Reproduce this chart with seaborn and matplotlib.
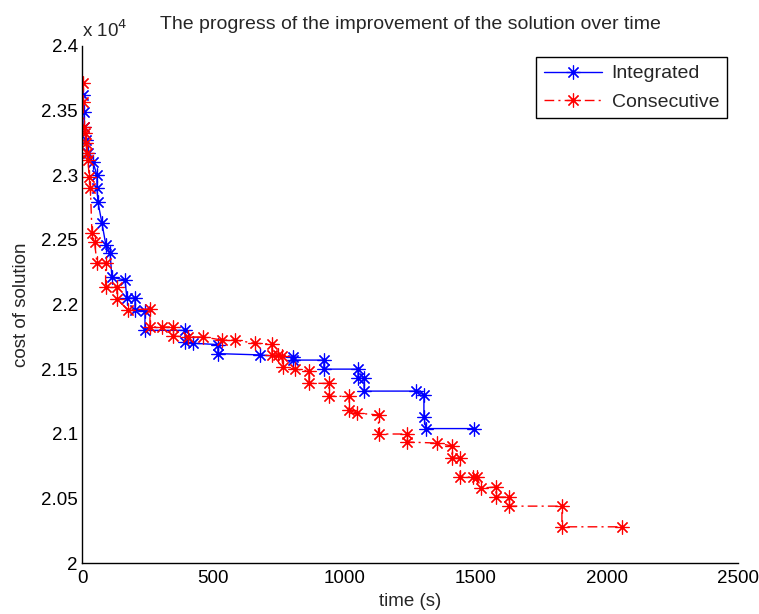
import matplotlib
matplotlib.use("Agg")
import matplotlib.pyplot as plt
import matplotlib.ticker as mticker
from matplotlib.lines import Line2D
import seaborn as sns
import pandas as pd

# Integrated run: time (s) and cost of solution
integrated_t = [4, 8, 8, 15, 23, 42, 57, 57, 61, 76, 91, 107, 114, 164, 171, 202, 202,
                240, 240, 393, 393, 423, 518, 518, 678, 804, 804, 922, 922, 1052, 1052,
                1075, 1075, 1273, 1303, 1303, 1311, 1494]
integrated_c = [23620, 23490, 23370, 23270, 23170, 23100, 23000, 22900, 22790, 22630,
                22460, 22400, 22210, 22190, 22050, 22050, 21960, 21950, 21800, 21800,
                21710, 21700, 21690, 21620, 21610, 21590, 21570, 21570, 21500, 21500,
                21430, 21430, 21330, 21330, 21300, 21130, 21040, 21040]

# Consecutive run
consecutive_t = [4, 4, 8, 11, 15, 20, 23, 27, 32, 38, 48, 57, 90, 90, 133, 133, 175, 259,
                 259, 305, 347, 347, 404, 461, 534, 583, 659, 724, 724, 747, 762, 766,
                 812, 865, 865, 941, 941, 1018, 1018, 1048, 1130, 1130, 1239, 1239, 1353,
                 1410, 1410, 1441, 1441, 1490, 1505, 1520, 1578, 1578, 1627, 1627, 1829,
                 1829, 2058]
consecutive_c = [23710, 23570, 23370, 23330, 23250, 23170, 23120, 22990, 22900, 22550,
                 22480, 22320, 22320, 22135, 22135, 22040, 21960, 21965, 21826, 21826,
                 21826, 21756, 21749, 21749, 21725, 21725, 21700, 21694, 21610, 21610,
                 21600, 21516, 21500, 21486, 21390, 21390, 21290, 21290, 21180, 21160,
                 21145, 20998, 20998, 20936, 20928, 20905, 20812, 20812, 20665, 20665,
                 20665, 20580, 20588, 20510, 20510, 20440, 20440, 20280, 20280]

series_names = ["Integrated", "Consecutive"]
x_ticks = [0, 500, 1000, 1500, 2000, 2500]
y_ticks = [20000, 20500, 21000, 21500, 22000, 22500, 23000, 23500, 24000]

df_int = pd.DataFrame({"time": integrated_t, "cost": integrated_c})
df_con = pd.DataFrame({"time": consecutive_t, "cost": consecutive_c})

sns.set_style("white")
plt.rcParams["font.family"] = ["Liberation Sans", "DejaVu Sans"]
FS = 13.5

fig = plt.figure(figsize=(7.59, 6.14), dpi=100)
ax = fig.add_axes([82 / 759, 1 - 563 / 614, (738 - 82) / 759, (563 - 46) / 614])

star = (8, 2, 0)
blue = (0, 0, 1)
red = (1, 0, 0)
dashdot = (0, (7, 3, 1.5, 3))
MS = 10
MEW = 0.85

sns.lineplot(data=df_int, x="time", y="cost", sort=False, estimator=None, ax=ax,
             color=blue, linestyle="-", linewidth=1.0, marker=star, markersize=MS,
             markeredgewidth=MEW, markeredgecolor=blue, markerfacecolor=blue)
sns.lineplot(data=df_con, x="time", y="cost", sort=False, estimator=None, ax=ax,
             color=red, linestyle=dashdot, linewidth=1.0, marker=star, markersize=MS,
             markeredgewidth=MEW, markeredgecolor=red, markerfacecolor=red)

ax.set_xlim(0, 2500)
ax.set_ylim(20000, 24000)
ax.set_xticks(x_ticks)
ax.set_yticks(y_ticks)
ax.yaxis.set_major_formatter(mticker.FuncFormatter(lambda v, p: f"{v/1e4:g}"))
ax.tick_params(direction="in", length=5, width=1, labelsize=FS, colors="black")
ax.tick_params(axis="x", pad=5)
ax.tick_params(axis="y", pad=3)
for s in ["top", "right"]:
    ax.spines[s].set_visible(False)
for s in ["left", "bottom"]:
    ax.spines[s].set_color("black")
    ax.spines[s].set_linewidth(1.0)

ax.set_xlabel("time (s)", fontsize=FS, labelpad=4)
ax.set_ylabel("cost of solution", fontsize=FS, labelpad=8)
ax.set_title("The progress of the improvement of the solution over time", fontsize=14, pad=12)
ax.text(0.0, 1.01, r"x 10$^4$", transform=ax.transAxes, fontsize=FS, ha="left", va="bottom")

handles = [
    Line2D([], [], color=blue, linestyle="-", marker=star, markersize=MS,
           markeredgewidth=MEW, linewidth=1.0),
    Line2D([], [], color=red, linestyle=dashdot, marker=star, markersize=MS,
           markeredgewidth=MEW, linewidth=1.0),
]
leg = ax.legend(handles, series_names, loc="upper right",
                bbox_to_anchor=(1.0 - 11 / 656, 1.0 - 11 / 517),
                fontsize=14, frameon=True, fancybox=False, edgecolor="black", framealpha=1,
                handlelength=3.0, handletextpad=0.5, borderpad=0.4, labelspacing=0.55,
                borderaxespad=0)
leg.get_frame().set_linewidth(1.0)

fig.savefig("out.png", dpi=100)
